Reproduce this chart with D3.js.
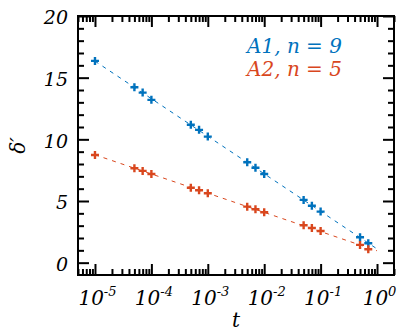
<!DOCTYPE html>
<html>
<head>
<meta charset="utf-8">
<script src="https://cdn.jsdelivr.net/npm/d3@7"></script>
<style>
  body { margin: 0; background: #fff; }
  svg text { font-family: "DejaVu Serif", serif; font-style: italic; fill: #000; }
</style>
</head>
<body>
<div id="chart"></div>
<script>
// data
var tValues = [1e-5, 5e-5, 7e-5, 1e-4, 5e-4, 7e-4, 1e-3, 5e-3, 7e-3, 1e-2, 5e-2, 7e-2, 1e-1, 5e-1, 7e-1];
var deltaA1 = [16.36, 14.22, 13.79, 13.20, 11.18, 10.77, 10.22, 8.14, 7.70, 7.19, 5.09, 4.62, 4.14, 2.06, 1.57];
var deltaA2 = [8.73, 7.66, 7.44, 7.19, 6.08, 5.87, 5.63, 4.54, 4.33, 4.09, 3.03, 2.81, 2.57, 1.44, 1.09];
var seriesNames = ['A1', 'A2'];
var seriesN = [9, 5];
var fitRange = [1e-5, 1];
var xMajorTicks = [1e-5, 1e-4, 1e-3, 1e-2, 1e-1, 1];
var xExponents = [-5, -4, -3, -2, -1, 0];
var yMajorTicks = [0, 5, 10, 15, 20];

var margin = {top: 16, right: 21, bottom: 57, left: 78},
    width = 415 - margin.left - margin.right,
    height = 332 - margin.top - margin.bottom;

var colors = ['#0072BD', '#D9471E'];

var svg = d3.select('#chart')
    .append('svg')
    .attr('width', width + margin.left + margin.right)
    .attr('height', height + margin.top + margin.bottom);

var g = svg.append('g')
    .attr('transform', 'translate(' + margin.left + ',' + margin.top + ')');

var xScale = d3.scaleLog()
    .domain([5e-6, 2])
    .range([0, width]);

var yScale = d3.scaleLinear()
    .domain([-1, 20])
    .range([height, 0]);

// minor ticks
var xMinor = xScale.ticks().filter(function(d) { return xMajorTicks.indexOf(d) < 0; });
var yMinor = d3.range(0, 21).filter(function(d) { return d % 5 !== 0; });

function tickAxis(axis, tr) {
    var a = g.append('g')
        .attr('class', 'axis')
        .attr('transform', tr)
        .call(axis);
    a.select('.domain').remove();
    a.selectAll('.tick line').attr('stroke', '#000').attr('stroke-width', 2);
    return a;
}

// bottom + top
tickAxis(d3.axisBottom(xScale).tickValues(xMinor).tickSize(-6).tickFormat(''), 'translate(0,' + height + ')');
tickAxis(d3.axisTop(xScale).tickValues(xMinor).tickSize(-6).tickFormat(''), 'translate(0,0)');
tickAxis(d3.axisTop(xScale).tickValues(xMajorTicks).tickSize(-11).tickFormat(''), 'translate(0,0)');
var xAx = tickAxis(d3.axisBottom(xScale).tickValues(xMajorTicks).tickSize(-11).tickPadding(0).tickFormat(''), 'translate(0,' + height + ')');

xAx.selectAll('.tick').each(function(d, i) {
    var t = d3.select(this).append('text')
        .attr('y', 30)
        .attr('x', 2)
        .style('text-anchor', 'middle')
        .style('font-size', '20px');
    t.append('tspan').text('10');
    t.append('tspan')
        .attr('dy', -9)
        .style('font-size', '13px')
        .text(xExponents[i]);
});

// left + right
var yAx = tickAxis(d3.axisLeft(yScale).tickValues(yMajorTicks).tickSize(-11).tickPadding(10), 'translate(0,0)');
yAx.selectAll('.tick text')
    .attr('dy', '0.42em')
    .style('font-size', '19px');
tickAxis(d3.axisLeft(yScale).tickValues(yMinor).tickSize(-6).tickFormat(''), 'translate(0,0)');
tickAxis(d3.axisRight(yScale).tickValues(yMajorTicks).tickSize(-11).tickFormat(''), 'translate(' + width + ',0)');
tickAxis(d3.axisRight(yScale).tickValues(yMinor).tickSize(-6).tickFormat(''), 'translate(' + width + ',0)');

// frame
g.append('rect')
    .attr('width', width)
    .attr('height', height)
    .attr('fill', 'none')
    .attr('stroke', '#000')
    .attr('stroke-width', 2);

// fits (least squares in log t)
function fit(ys) {
    var xs = tValues.map(function(d) { return Math.log10(d); });
    var mx = d3.mean(xs), my = d3.mean(ys);
    var sxy = d3.sum(xs, function(x, i) { return (x - mx) * (ys[i] - my); });
    var sxx = d3.sum(xs, function(x) { return (x - mx) * (x - mx); });
    var b = sxy / sxx, a = my - b * mx;
    return fitRange.map(function(t) { return {x: t, y: a + b * Math.log10(t)}; });
}

var lineFunction = d3.line()
    .x(function(d) { return xScale(d.x); })
    .y(function(d) { return yScale(d.y); });

[deltaA1, deltaA2].forEach(function(ys, k) {
    g.append('path')
        .attr('d', lineFunction(fit(ys)))
        .attr('fill', 'none')
        .attr('stroke', colors[k])
        .attr('stroke-width', 1)
        .attr('stroke-dasharray', '4,5');

    g.selectAll('.pt' + k)
        .data(tValues.map(function(t, i) { return {x: t, y: ys[i]}; }))
        .enter().append('path')
        .attr('class', 'pt' + k)
        .attr('transform', function(d) { return 'translate(' + xScale(d.x) + ',' + yScale(d.y) + ')'; })
        .attr('d', 'M-4,0H4M0,-4V4')
        .attr('stroke', colors[k])
        .attr('stroke-width', 2.4);
});

// legend
seriesNames.forEach(function(name, k) {
    g.append('text')
        .attr('x', 247 - margin.left)
        .attr('y', 53 - margin.top + k * 23)
        .style('font-size', '20px')
        .style('fill', colors[k])
        .text(name + ', n = ' + seriesN[k]);
});

// axis titles
svg.append('text')
    .attr('x', margin.left + width / 2)
    .attr('y', 327)
    .style('text-anchor', 'middle')
    .style('font-size', '20px')
    .text('t');

svg.append('text')
    .attr('transform', 'translate(25,' + (margin.top + height / 2) + ') rotate(-90)')
    .style('text-anchor', 'middle')
    .style('font-size', '20px')
    .text('δ′');
</script>
</body>
</html>
